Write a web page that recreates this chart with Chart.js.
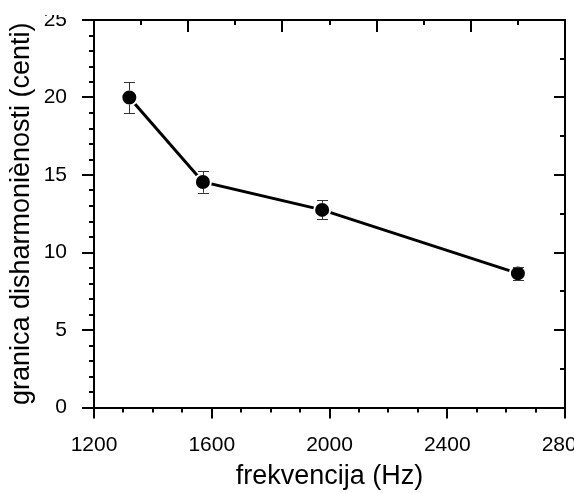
<!DOCTYPE html>
<html>
<head>
<meta charset="utf-8">
<script src="https://cdn.jsdelivr.net/npm/chart.js"></script>
<style>
  html, body { margin: 0; padding: 0; background: #fff; overflow: hidden; }
  #clip { position: absolute; left: 0; top: 15px; width: 574px; height: 478px; overflow: hidden; }
  #box { position: relative; top: -15px; width: 600px; height: 493px; }
</style>
</head>
<body>
<div id="clip"><div id="box"><canvas id="c"></canvas></div></div>
<script>
// data
const freq = [1320, 1570, 1975, 2640]
const disharm = [20.0, 14.55, 12.75, 8.65]
const errs = [1.0, 0.7, 0.62, 0.4]
const xTicks = [1200, 1600, 2000, 2400, 2800]
const yTicks = [0, 5, 10, 15, 20, 25]

const font = 'Liberation Sans, Arial, sans-serif'

// fixed axis box sizes, no label overflow padding
const fixSize = (w, h) => s => {
  if (w != null) s.width = w
  if (h != null) s.height = h
  s.paddingLeft = s.paddingRight = s.paddingTop = s.paddingBottom = 0
}

// tick marks: bottom/left point outward, top/right point inward
const tickMarks = {
  id: 'tickMarks',
  afterDraw(chart) {
    const { ctx, chartArea: a } = chart
    const { x, y, x2, y2 } = chart.scales
    ctx.save()
    ctx.strokeStyle = '#000'
    ctx.lineWidth = 2
    const seg = (x0, y0, x1, y1) => { ctx.beginPath(); ctx.moveTo(x0, y0); ctx.lineTo(x1, y1); ctx.stroke() }
    for (let v = 1200; v <= 2800; v += 100) {
      const p = Math.round(x.getPixelForValue(v))
      seg(p, a.bottom, p, a.bottom + (v % 400 === 0 ? 11 : 5))
    }
    for (let v = 0; v <= 25; v += 1) {
      const p = Math.round(y.getPixelForValue(v))
      seg(a.left, p, a.left - (v % 5 === 0 ? 12 : 5), p)
    }
    for (let i = 0; i <= 10; i++) {
      const p = Math.round(x2.getPixelForValue(1200 + i * 160))
      seg(p, a.top, p, a.top + (i % 2 === 0 ? 12 : 5))
    }
    for (let i = 0; i <= 10; i++) {
      const p = Math.round(y2.getPixelForValue(i * 2.5))
      seg(a.right, p, a.right - (i % 2 === 0 ? 11 : 5), p)
    }
    ctx.restore()
  }
}

// vertical error bars with caps
const errorBars = {
  id: 'errorBars',
  afterDatasetsDraw(chart) {
    const { ctx } = chart
    const { x, y } = chart.scales
    ctx.save()
    ctx.strokeStyle = '#333'
    ctx.lineWidth = 1
    freq.forEach((f, i) => {
      const px = Math.round(x.getPixelForValue(f)) + 0.5
      const pc = y.getPixelForValue(disharm[i])
      const top = y.getPixelForValue(disharm[i] + errs[i])
      const bot = y.getPixelForValue(disharm[i] - errs[i])
      ctx.beginPath()
      if (pc - top > 7) { ctx.moveTo(px, top); ctx.lineTo(px, pc - 7) }
      if (bot - pc > 7) { ctx.moveTo(px, pc + 7); ctx.lineTo(px, bot) }
      ctx.moveTo(px - 5.5, Math.round(top) + 0.5); ctx.lineTo(px + 5.5, Math.round(top) + 0.5)
      ctx.moveTo(px - 5.5, Math.round(bot) + 0.5); ctx.lineTo(px + 5.5, Math.round(bot) + 0.5)
      ctx.stroke()
    })
    ctx.restore()
  }
}

new Chart(document.getElementById('c'), {
  type: 'line',
  data: {
    datasets: [{
      data: freq.map((f, i) => ({ x: f, y: disharm[i] })),
      borderColor: '#000',
      borderWidth: 3,
      pointRadius: 8,
      pointHoverRadius: 8,
      pointBackgroundColor: '#000',
      pointBorderColor: '#fff',
      pointBorderWidth: 2,
      tension: 0
    }]
  },
  options: {
    responsive: true,
    maintainAspectRatio: false,
    animation: false,
    events: [],
    layout: { padding: 0, autoPadding: false },
    plugins: { legend: { display: false }, tooltip: { enabled: false } },
    scales: {
      x: {
        type: 'linear', position: 'bottom', min: 1200, max: 2800,
        afterBuildTicks: s => { s.ticks = xTicks.map(v => ({ value: v })) },
        afterFit: fixSize(null, 85.5),
        grid: { display: false },
        border: { display: true, color: '#000', width: 2 },
        ticks: { color: '#000', padding: 17, maxRotation: 0, font: { family: font, size: 21 }, callback: v => String(v) },
        title: { display: true, text: 'frekvencija (Hz)', color: '#000', padding: { top: 0, bottom: 0 }, font: { family: font, size: 27 } }
      },
      y: {
        type: 'linear', position: 'left', min: 0, max: 25,
        afterBuildTicks: s => { s.ticks = yTicks.map(v => ({ value: v })) },
        afterFit: fixSize(94, null),
        grid: { display: false },
        border: { display: true, color: '#000', width: 2 },
        ticks: { color: '#000', padding: 19, font: { family: font, size: 21 }, callback: v => String(v) },
        title: { display: true, text: 'granica disharmoniènosti (centi)', color: '#000', padding: { top: 5, bottom: 0 }, font: { family: font, size: 27 } }
      },
      x2: {
        type: 'linear', position: 'top', min: 1200, max: 2800,
        afterFit: fixSize(null, 20),
        grid: { display: false },
        border: { display: true, color: '#000', width: 2 },
        ticks: { display: false }
      },
      y2: {
        type: 'linear', position: 'right', min: 0, max: 25,
        afterFit: fixSize(35, null),
        grid: { display: false },
        border: { display: true, color: '#000', width: 2 },
        ticks: { display: false }
      }
    }
  },
  plugins: [tickMarks, errorBars]
})
</script>
</body>
</html>
